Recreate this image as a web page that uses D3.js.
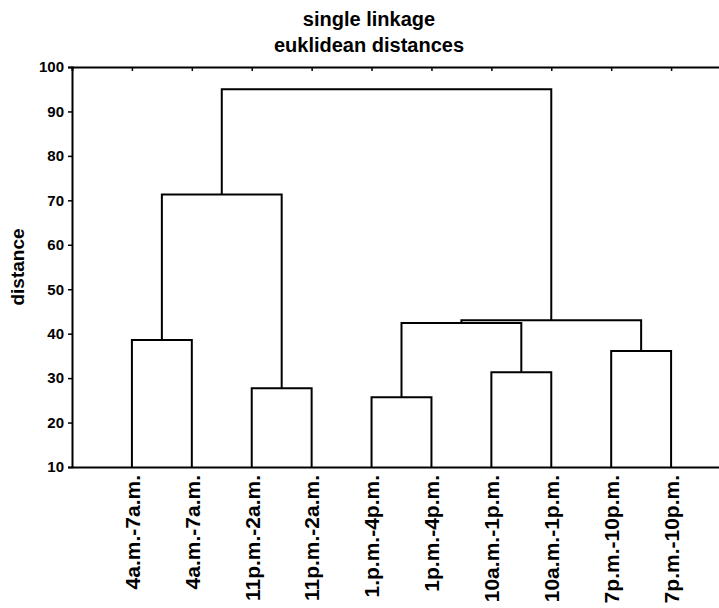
<!DOCTYPE html>
<html>
<head>
<meta charset="utf-8">
<script src="https://cdn.jsdelivr.net/npm/d3@7"></script>
<style>
  html, body { margin: 0; padding: 0; background: #fff; }
  svg { display: block; }
  text { font-family: "Liberation Sans", Arial, sans-serif; font-weight: bold; fill: #000; }
</style>
</head>
<body>
<svg id="chart" width="719" height="608"></svg>
<script>
// leaves, left to right
const leafLabels = [
  '4a.m.-7a.m.', '4a.m.-7a.m.', '11p.m.-2a.m.', '11p.m.-2a.m.',
  '1.p.m.-4p.m.', '1p.m.-4p.m.', '10a.m.-1p.m.', '10a.m.-1p.m.',
  '7p.m.-10p.m.', '7p.m.-10p.m.'
];
// merges (ids 0-9 are leaves, merge k becomes cluster 10 + k)
const mergeLeft = [0, 2, 4, 6, 8, 12, 15, 10, 17];
const mergeRight = [1, 3, 5, 7, 9, 13, 14, 11, 16];
const mergeHeight = [38.6, 27.7, 25.7, 31.3, 36.1, 42.4, 43.0, 71.3, 95.0];
const yTicks = [10, 20, 30, 40, 50, 60, 70, 80, 90, 100];
const titleLines = ['single linkage', 'euklidean distances'];

const svg = d3.select('#chart');
const margin = { left: 72, top: 67, bottom: 467, right: 731 };
const fontFamily = '"Liberation Sans", Arial, sans-serif';

const x = d3.scalePoint()
  .domain(leafLabels.map((d, i) => i))
  .range([margin.left, margin.right])
  .padding(1);

const y = d3.scaleLinear()
  .domain([10, 100])
  .range([margin.bottom, margin.top]);

// Title
svg.selectAll('text.title')
  .data(titleLines)
  .join('text')
  .attr('class', 'title')
  .attr('x', 369)
  .attr('y', (d, i) => 26 + i * 26)
  .attr('text-anchor', 'middle')
  .attr('font-size', '20px')
  .text(d => d);

// Y axis label
svg.append('text')
  .attr('transform', 'translate(24, 267) rotate(-90)')
  .attr('text-anchor', 'middle')
  .attr('font-size', '19px')
  .text('distance');

// Left axis
const yAxis = d3.axisLeft(y).tickValues(yTicks).tickSize(4).tickPadding(4);
const yAxisGroup = svg.append('g')
  .attr('class', 'axis axis-y')
  .attr('transform', `translate(${margin.left},0)`)
  .call(yAxis);
yAxisGroup.select('path.domain').attr('stroke-width', 2);
yAxisGroup.selectAll('line').attr('stroke-width', 1.5);
yAxisGroup.selectAll('text')
  .attr('font-size', '15px')
  .attr('font-family', fontFamily)
  .attr('font-weight', 'bold');

// Top axis (ticks pointing in, no labels)
const topAxis = d3.axisTop(x).tickSize(-4).tickFormat('');
const topGroup = svg.append('g')
  .attr('class', 'axis axis-top')
  .attr('transform', `translate(0,${margin.top})`)
  .call(topAxis);
topGroup.select('path.domain').attr('stroke-width', 2);
topGroup.selectAll('line').attr('stroke-width', 1.5);

// Bottom axis with rotated leaf labels
const bottomAxis = d3.axisBottom(x).tickSize(0).tickFormat(i => leafLabels[i]);
const bottomGroup = svg.append('g')
  .attr('class', 'axis axis-x')
  .attr('transform', `translate(0,${margin.bottom})`)
  .call(bottomAxis);
bottomGroup.select('path.domain').attr('stroke-width', 2);
bottomGroup.selectAll('text')
  .attr('font-size', '21px')
  .attr('font-family', fontFamily)
  .attr('font-weight', 'bold')
  .attr('text-anchor', 'end')
  .attr('transform', 'rotate(-90)')
  .attr('x', -8)
  .attr('y', 0)
  .attr('dy', '0.35em');

// Dendrogram
const nodeX = leafLabels.map((d, i) => x(i));
const nodeH = leafLabels.map(() => 10);
const links = [];
mergeLeft.forEach((l, k) => {
  const r = mergeRight[k];
  const h = mergeHeight[k];
  links.push({ x1: nodeX[l], h1: nodeH[l], x2: nodeX[r], h2: nodeH[r], h });
  nodeX.push((nodeX[l] + nodeX[r]) / 2);
  nodeH.push(h);
});

svg.append('g')
  .attr('class', 'dendrogram')
  .selectAll('path')
  .data(links)
  .join('path')
  .attr('d', d => `M${d.x1},${y(d.h1)}V${y(d.h)}H${d.x2}V${y(d.h2)}`)
  .attr('fill', 'none')
  .attr('stroke', '#000')
  .attr('stroke-width', 2);
</script>
</body>
</html>
